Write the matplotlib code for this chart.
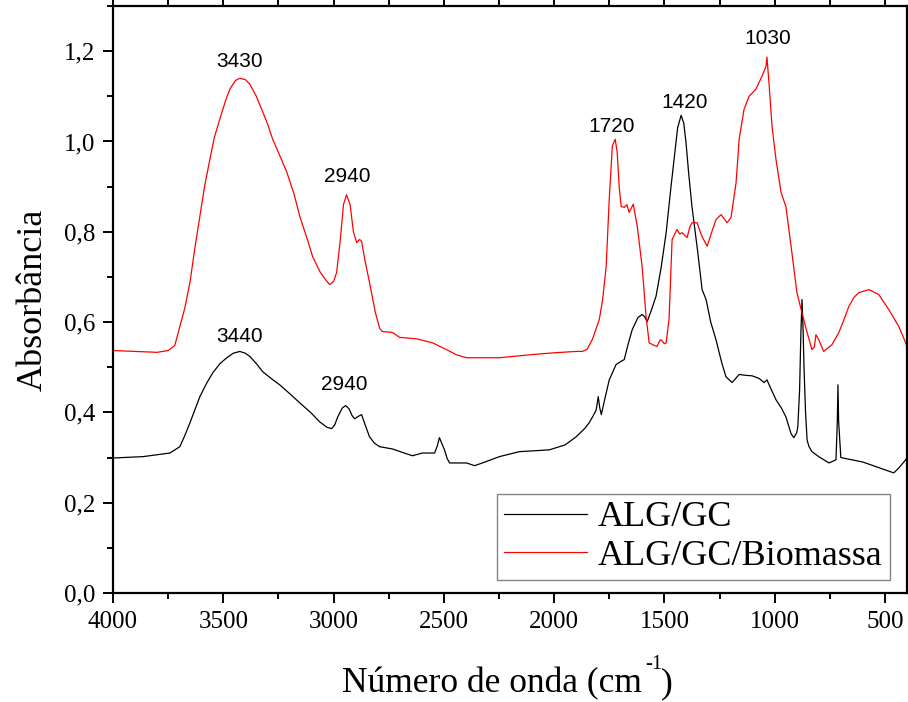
import numpy as np
import matplotlib
matplotlib.use("Agg")
import matplotlib.pyplot as plt
from matplotlib.ticker import FuncFormatter, MultipleLocator

# ALG/GC/Biomassa (red)
WN_BIO = [4000, 3900, 3800, 3750, 3720, 3697, 3675, 3651, 3630, 3606, 3585, 3561, 3540, 3516,
          3490, 3470, 3445, 3425, 3400, 3380, 3350, 3321, 3300, 3276, 3245, 3212, 3180, 3153,
          3120, 3095, 3060, 3030, 3018, 3000, 2986, 2970, 2955, 2941, 2925, 2910, 2895, 2882,
          2873, 2855, 2837, 2810, 2790, 2778, 2733, 2700, 2624, 2551, 2488, 2440, 2397, 2300,
          2248, 2100, 2000, 1900, 1872, 1850, 1827, 1810, 1795, 1780, 1764, 1750, 1736, 1723,
          1714, 1705, 1696, 1682, 1670, 1660, 1641, 1623, 1601, 1583, 1569, 1545, 1533, 1520,
          1515, 1500, 1492, 1479, 1465, 1443, 1430, 1420, 1397, 1385, 1375, 1352, 1330, 1306,
          1285, 1266, 1243, 1216, 1198, 1175, 1161, 1139, 1116, 1085, 1057, 1039, 1035, 1026,
          1012, 994, 971, 949, 922, 899, 876, 853, 831, 820, 813, 800, 778, 740, 709, 690, 664,
          640, 619, 573, 528, 483, 437, 406, 400]
ABS_BIO = [0.537, 0.535, 0.533, 0.537, 0.548, 0.590, 0.630, 0.688, 0.760, 0.834, 0.900, 0.960,
           1.010, 1.049, 1.090, 1.116, 1.135, 1.140, 1.137, 1.127, 1.100, 1.065, 1.040, 1.005,
           0.970, 0.932, 0.885, 0.834, 0.785, 0.745, 0.710, 0.690, 0.683, 0.690, 0.710, 0.780,
           0.860, 0.882, 0.860, 0.800, 0.776, 0.783, 0.779, 0.730, 0.688, 0.620, 0.585, 0.579,
           0.577, 0.566, 0.563, 0.554, 0.539, 0.527, 0.521, 0.521, 0.521, 0.528, 0.532, 0.535,
           0.535, 0.540, 0.561, 0.585, 0.606, 0.650, 0.723, 0.872, 0.990, 1.005, 0.976, 0.900,
           0.856, 0.854, 0.860, 0.843, 0.861, 0.812, 0.723, 0.612, 0.554, 0.548, 0.546, 0.560,
           0.561, 0.552, 0.554, 0.606, 0.783, 0.805, 0.795, 0.798, 0.787, 0.810, 0.820, 0.820,
           0.790, 0.768, 0.800, 0.827, 0.838, 0.820, 0.831, 0.909, 1.005, 1.071, 1.100, 1.116,
           1.145, 1.167, 1.187, 1.131, 1.034, 0.960, 0.887, 0.856, 0.754, 0.665, 0.620, 0.577,
           0.539, 0.545, 0.572, 0.561, 0.535, 0.550, 0.577, 0.600, 0.634, 0.655, 0.665, 0.672,
           0.661, 0.628, 0.590, 0.554, 0.545]

# ALG/GC (black)
WN_ALG = [4000, 3864, 3742, 3697, 3675, 3651, 3606, 3575, 3547, 3515, 3484, 3455, 3425, 3400,
          3380, 3350, 3321, 3280, 3244, 3200, 3153, 3100, 3063, 3030, 3009, 2995, 2981, 2960,
          2945, 2930, 2915, 2904, 2885, 2873, 2855, 2837, 2815, 2791, 2733, 2680, 2642, 2597,
          2542, 2530, 2520, 2508, 2497, 2485, 2474, 2397, 2361, 2325, 2248, 2158, 2022, 1950,
          1900, 1860, 1841, 1820, 1809, 1800, 1793, 1786, 1770, 1750, 1719, 1700, 1682, 1665,
          1646, 1620, 1601, 1590, 1578, 1560, 1538, 1515, 1492, 1470, 1456, 1440, 1424, 1412,
          1402, 1390, 1375, 1350, 1329, 1311, 1290, 1266, 1240, 1221, 1193, 1161, 1130, 1102,
          1070, 1048, 1035, 1015, 994, 970, 949, 925, 913, 900, 895, 887, 881, 876, 871, 867,
          860, 853, 845, 831, 800, 754, 722, 716, 713, 710, 700, 650, 600, 542, 460, 437, 406,
          400]
ABS_ALG = [0.299, 0.302, 0.310, 0.324, 0.348, 0.377, 0.435, 0.465, 0.488, 0.508, 0.521, 0.531,
           0.535, 0.531, 0.524, 0.508, 0.490, 0.474, 0.461, 0.442, 0.421, 0.398, 0.379, 0.367,
           0.364, 0.372, 0.390, 0.410, 0.415, 0.408, 0.392, 0.386, 0.392, 0.395, 0.370, 0.346,
           0.332, 0.324, 0.319, 0.310, 0.304, 0.310, 0.310, 0.325, 0.344, 0.330, 0.317, 0.298,
           0.288, 0.288, 0.282, 0.288, 0.302, 0.313, 0.317, 0.328, 0.346, 0.365, 0.377, 0.395,
           0.406, 0.435, 0.410, 0.395, 0.430, 0.472, 0.506, 0.512, 0.517, 0.550, 0.583, 0.610,
           0.617, 0.612, 0.601, 0.625, 0.657, 0.720, 0.798, 0.900, 0.960, 1.030, 1.058, 1.040,
           0.998, 0.930, 0.856, 0.760, 0.672, 0.650, 0.600, 0.561, 0.510, 0.479, 0.466, 0.484,
           0.482, 0.481, 0.475, 0.466, 0.472, 0.450, 0.428, 0.410, 0.390, 0.352, 0.344, 0.355,
           0.368, 0.450, 0.577, 0.650, 0.580, 0.501, 0.400, 0.339, 0.325, 0.313, 0.302, 0.288,
           0.295, 0.380, 0.461, 0.380, 0.300, 0.295, 0.290, 0.280, 0.266, 0.277, 0.295, 0.300]

# peak labels: text, wavenumber, absorbance of the label centre
PEAK_TXT = ["3430", "2940", "1720", "1420", "1030", "3440", "2940"]
PEAK_WN = [3425, 2936, 1737, 1406, 1030, 3425, 2950]
PEAK_Y = [1.178, 0.923, 1.034, 1.087, 1.227, 0.568, 0.461]

SERIF = ["Liberation Serif", "DejaVu Serif"]


def main():
    fig = plt.figure(figsize=(9.08, 7.02), dpi=100)
    ax = fig.add_axes([113 / 908, 1 - 593 / 702, 794 / 908, 587 / 702])

    ax.plot(WN_ALG, ABS_ALG, color="black", lw=0.9, label="ALG/GC")
    ax.plot(WN_BIO, ABS_BIO, color="red", lw=0.9, label="ALG/GC/Biomassa")

    for t, x, y in zip(PEAK_TXT, PEAK_WN, PEAK_Y):
        ax.text(x, y, t, ha="center", va="center", fontsize=15,
                family=["Liberation Sans", "DejaVu Sans"])

    ax.set_xlim(4000, 400)
    ax.set_ylim(0, 1.3)
    ax.xaxis.set_major_locator(MultipleLocator(500))
    ax.xaxis.set_minor_locator(MultipleLocator(250))
    ax.yaxis.set_major_locator(MultipleLocator(0.2))
    ax.yaxis.set_minor_locator(MultipleLocator(0.1))
    ax.yaxis.set_major_formatter(FuncFormatter(lambda v, p: f"{v:.1f}".replace(".", ",")))
    ax.xaxis.set_major_formatter(FuncFormatter(lambda v, p: f"{v:.0f}"))

    for s in ax.spines.values():
        s.set_linewidth(1.6)
    ax.tick_params(which="both", direction="out", top=True, right=True, width=1.4)
    ax.tick_params(which="major", length=7, labelsize=18, pad=6)
    ax.tick_params(which="minor", length=4)
    for lab in ax.get_xticklabels() + ax.get_yticklabels():
        lab.set_family(SERIF)

    # x label: plain text plus a small raised "-1", as in the reference
    fig.text(642 / 908, 10 / 702, "Número de onda (cm", fontsize=25.5, family=SERIF,
             ha="right", va="baseline")
    fig.text(645 / 908, 33 / 702, "-1", fontsize=15, family=SERIF, ha="left", va="baseline")
    fig.text(661 / 908, 10 / 702, ")", fontsize=25.5, family=SERIF, ha="left", va="baseline")
    ax.set_ylabel("Absorbância", fontsize=26, family=SERIF, labelpad=10)

    leg = ax.legend(loc="lower right", bbox_to_anchor=(0.978, 0.022), fancybox=False,
                    prop={"family": SERIF, "size": 26}, handlelength=2.3, borderpad=0.2,
                    labelspacing=0.15, handletextpad=0.3, borderaxespad=0)
    leg.get_frame().set_edgecolor("0.4")
    leg.get_frame().set_linewidth(1.0)

    fig.savefig("out.png", dpi=100)


if __name__ == "__main__":
    main()
